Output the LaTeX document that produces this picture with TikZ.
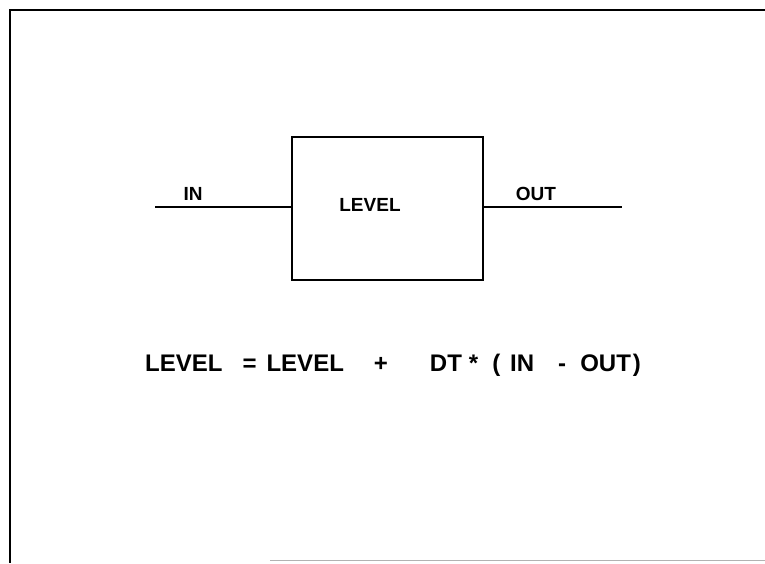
\documentclass[tikz,border=0pt]{standalone}
\usepackage{fontspec}
\setmainfont{Liberation Sans}
\usepackage{tikz}
\usetikzlibrary{positioning, calc}

\begin{document}
\begin{tikzpicture}[
  x=1pt, y=-1pt,
  frame/.style={line width=2.2pt},
  stock/.style={draw,line width=1.8pt,minimum width=191pt,minimum height=143pt,
                inner sep=0pt},
  flow/.style={line width=1.8pt},
  lbl/.style={font=\fontsize{19}{22}\selectfont\bfseries},
  eqn/.style={font=\fontsize{24}{28}\selectfont\bfseries,inner sep=0pt}
]
  \useasboundingbox (0,0) rectangle (765,563);
  % sheet border
  \coordinate (tl) at (10,10);
  \coordinate (tr) at (765,10);
  \coordinate (bl) at (10,563);
  \draw[frame] (tr) -- (tl) -- (bl);
  \draw[gray!60, line width=1pt] (270,560) -- (765,560);

  % level box with its flows
  \node[stock] (lvl) at (387.5,208.5) {};
  \node[lbl] (lvltxt) at (370,205) {LEVEL};
  \coordinate (inend) at (155,207);
  \coordinate (outend) at (622,207);
  \draw[flow] (inend) -- (inend -| lvl.west);
  \draw[flow] (outend -| lvl.east) -- (outend);
  \node[lbl] (intxt) at (193,194) {IN};
  \node[lbl] (outtxt) at (536,194) {OUT};

  % update rule
  \node[eqn, anchor=west] (rule) at (145,365)
    {LEVEL\hspace{20pt}=\hspace{10pt}LEVEL\hspace{30pt}+\hspace{42pt}DT\hspace{7pt}*\hspace{14pt}(\hspace{10pt}IN\hspace{24pt}-\hspace{14pt}OUT\hspace{2pt})};
\end{tikzpicture}
\end{document}
